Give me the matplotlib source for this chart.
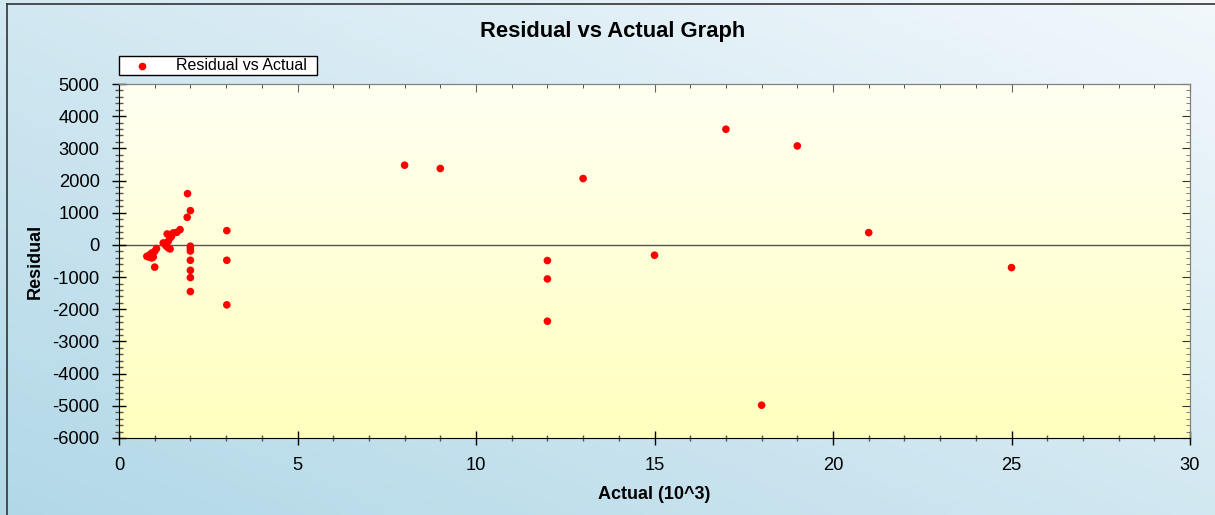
import numpy as np
import matplotlib
matplotlib.use("Agg")
import matplotlib.pyplot as plt
from matplotlib.ticker import MultipleLocator
from matplotlib.lines import Line2D
from matplotlib.patches import Rectangle

plt.rcParams['font.family'] = ['Liberation Sans', 'DejaVu Sans']
plt.rcParams['axes.unicode_minus'] = False

# ---- data (Actual in 10^3, Residual) ----
actual = [0.78, 0.82, 0.87, 0.92, 0.92, 0.96, 1.00, 1.00, 1.05, 1.24, 1.29, 1.33,
          1.38, 1.38, 1.43, 1.43, 1.35, 1.47, 1.52, 1.62, 1.71, 1.91, 1.92, 2.00,
          2.00, 2.00, 2.00, 2.00, 2.00, 2.00, 2.00,
          3.02, 3.02, 3.02,
          8.0, 9.0, 12.0, 12.0, 12.0, 13.0, 15.0, 17.0, 18.0, 19.0, 21.0, 25.0]
residual = [-354, -373, -300, -250, -404, -373, -200, -690, -115, 62, 10, -43,
            112, -93, -124, 217, 340, 267, 373, 390, 475, 857, 1593, 1065,
            -40, -110, -190, -478, -789, -1015, -1450,
            444, -478, -1863,
            2477, 2374, -486, -1057, -2371, 2063, -320, 3595, -4981, 3076, 382, -705]

title = "Residual vs Actual Graph"
xlabel = "Actual (10^3)"
ylabel = "Residual"
series_name = "Residual vs Actual"

W, H = 1215, 515
fig = plt.figure(figsize=(W / 100, H / 100), dpi=100)

# figure background gradient (bottom-left blue -> top-right very light)
bg = fig.add_axes([0, 0, 1, 1], zorder=-10)
nx, ny = 200, 100
gx, gy = np.meshgrid(np.linspace(0, 1, nx), np.linspace(0, 1, ny))
t = 1 - (gx * 0.5 + (1 - gy) * 0.5)
t = np.clip(t, 0, 1)
c_light = np.array([242, 248, 252]) / 255
c_dark = np.array([178, 216, 231]) / 255
img = c_light[None, None, :] * (1 - t[..., None]) + c_dark[None, None, :] * t[..., None]
bg.imshow(img, extent=[0, 1, 0, 1], aspect='auto', origin='upper')
bg.set_xlim(0, 1)
bg.set_ylim(0, 1)
bg.axis('off')
# border on left and top
bg.plot([7 / W, 7 / W], [0, 1 - 4 / H], color='#333333', lw=1.2)
bg.plot([7 / W, 1], [1 - 4 / H, 1 - 4 / H], color='#333333', lw=1.2)

left, right = 119 / W, 1190 / W
bottom, top = 1 - 438 / H, 1 - 84 / H
ax = fig.add_axes([left, bottom, right - left, top - bottom])

# plot area gradient
grad = np.linspace(0, 1, 256)[:, None]
c_top = np.array([255, 255, 242]) / 255
c_bot = np.array([255, 255, 190]) / 255
pimg = c_top[None, None, :] * (1 - grad[..., None]) + c_bot[None, None, :] * grad[..., None]
pimg = np.repeat(pimg, 2, axis=1)
ax.imshow(pimg, extent=[0, 1, 0, 1], transform=ax.transAxes, aspect='auto',
          origin='upper', zorder=0)

ax.set_xlim(0, 30)
ax.set_ylim(-6000, 5000)
ax.axhline(0, color='#555555', lw=1.0, zorder=1)
ax.scatter(actual, residual, s=30, color='#FF0000', edgecolors='none', zorder=3)

ax.xaxis.set_major_locator(MultipleLocator(5))
ax.xaxis.set_minor_locator(MultipleLocator(1))
ax.yaxis.set_major_locator(MultipleLocator(1000))
ax.yaxis.set_minor_locator(MultipleLocator(200))

ax.tick_params(axis='y', which='major', direction='inout', length=10, width=1,
               labelsize=13.2, pad=9, colors='black')
ax.tick_params(axis='y', which='minor', direction='inout', length=6, width=1, color='#555555')
ax.tick_params(axis='x', which='major', direction='inout', length=10, width=1,
               labelsize=13.2, pad=9)
ax.tick_params(axis='x', which='minor', direction='inout', length=4, width=1, color='#555555')

for s in ['top', 'right']:
    ax.spines[s].set_color('#808080')
for s in ['left', 'bottom']:
    ax.spines[s].set_color('black')

secx = ax.secondary_xaxis('top')
secx.xaxis.set_major_locator(MultipleLocator(5))
secx.xaxis.set_minor_locator(MultipleLocator(1))
secx.tick_params(which='major', direction='in', length=6, labeltop=False, color='#666666')
secx.tick_params(which='minor', direction='in', length=3, color='#333333')
secx.spines['top'].set_color('#808080')
secy = ax.secondary_yaxis('right')
secy.yaxis.set_major_locator(MultipleLocator(1000))
secy.yaxis.set_minor_locator(MultipleLocator(200))
secy.tick_params(which='major', direction='in', length=6, labelright=False, color='#333333')
secy.tick_params(which='minor', direction='in', length=3, color='#666666')
secy.spines['right'].set_color('#808080')

ax.set_xlabel(xlabel, fontsize=13, fontweight='bold', labelpad=8)
ax.set_ylabel(ylabel, fontsize=13, fontweight='bold', labelpad=6)
fig.text(0.504, 1 - 31 / H, title, ha='center', va='center', fontsize=15.8, fontweight='bold')

# legend box (drawn manually to match layout)
lx0, lx1 = 119 / W, 317 / W
ly0, ly1 = 1 - 75 / H, 1 - 56 / H
fig.patches.append(Rectangle((lx0, ly0), lx1 - lx0, ly1 - ly0, transform=fig.transFigure,
                             facecolor='white', edgecolor='black', lw=1.0, zorder=5))
fig.lines.append(Line2D([142 / W], [(ly0 + ly1) / 2], marker='o', linestyle='none',
                        color='#FF0000', markersize=5.5, markeredgewidth=0,
                        transform=fig.transFigure, zorder=6))
fig.text(176 / W, (ly0 + ly1) / 2, series_name, ha='left', va='center', fontsize=11.5,
         zorder=6)

fig.savefig("out.png", dpi=100)
